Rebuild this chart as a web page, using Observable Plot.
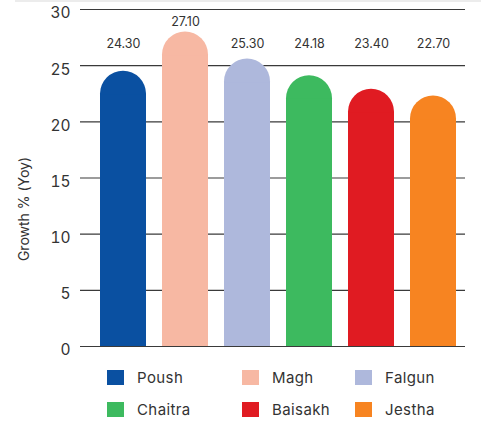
<!DOCTYPE html>
<html>
<head>
<meta charset="utf-8">
<script src="https://cdn.jsdelivr.net/npm/d3@7"></script>
<script src="https://cdn.jsdelivr.net/npm/@observablehq/plot@0.6"></script>
<style>
  html, body { margin: 0; padding: 0; background: #fff; }
  body { width: 481px; height: 432px; overflow: hidden; font-family: Inter, "Open Sans", sans-serif; }
  #topline { position: absolute; left: 15px; top: 0; width: 466px; height: 2px; background: #ececec; }
  #legend { display: grid; grid-template-columns: 135px 113px 110px; row-gap: 14px; margin-left: 107px; margin-top: 8px; }
  .item { display: flex; align-items: center; height: 18px; font-size: 15px; color: #333; letter-spacing: 0.4px; }
  .sw { width: 17px; height: 15px; margin-right: 13px; flex: none; }
</style>
</head>
<body>
<div id="topline"></div>
<div id="chart"></div>
<div id="legend"></div>
<script>
const months = ["Poush", "Magh", "Falgun", "Chaitra", "Baisakh", "Jestha"];
const barHeights = [24.5, 28.0, 25.6, 24.1, 22.9, 22.3];
const valueLabels = ["24.30", "27.10", "25.30", "24.18", "23.40", "22.70"];
const colors = ["#0a50a1", "#f7b8a3", "#aeb8dc", "#3dba5f", "#e01b22", "#f78421"];
const yTicks = [0, 5, 10, 15, 20, 25, 30];

const data = months.map((m, i) => ({
  month: m, h: barHeights[i], label: valueLabels[i],
  ly: Math.max(barHeights[i] + 0.9, 26.9)
}));

const capUnits = 2.1; // approx half bar width in y units, for square lower part

const chart = Plot.plot({
  width: 481,
  height: 360,
  marginLeft: 80,
  marginRight: 16,
  marginTop: 9,
  marginBottom: 14,
  style: { fontFamily: "Inter, 'Open Sans', sans-serif", color: "#333", background: "#fff" },
  x: { domain: months, range: [91, 464], paddingInner: 0.26, paddingOuter: 0.13, axis: null },
  y: { domain: [0, 30], ticks: yTicks, tickSize: 0, tickPadding: 10, label: null },
  color: { domain: months, range: colors },
  marks: [
    Plot.ruleY(yTicks, { stroke: "#3a3a3a", strokeWidth: 1.2 }),
    Plot.barY(data, { x: "month", y: "h", fill: "month", rx: 23 }),
    Plot.barY(data, { x: "month", y: d => d.h - capUnits, fill: "month" }),
    Plot.text(data, { x: "month", y: "ly", text: "label", fontSize: 12.5, fill: "#333" }),
    Plot.axisY({ ticks: yTicks, tickSize: 0, tickPadding: 10, fontSize: 15.5, label: null, fill: "#333", dy: 4 }),
    Plot.text(["Growth % (Yoy)"], { frameAnchor: "left", textAnchor: "middle", dx: -56, dy: 31, rotate: -90, fontSize: 14, fill: "#333" })
  ]
});
document.getElementById("chart").appendChild(chart);

const legend = document.getElementById("legend");
months.forEach((m, i) => {
  const it = document.createElement("div");
  it.className = "item";
  it.innerHTML = `<span class="sw" style="background:${colors[i]}"></span><span>${m}</span>`;
  legend.appendChild(it);
});
</script>
</body>
</html>
